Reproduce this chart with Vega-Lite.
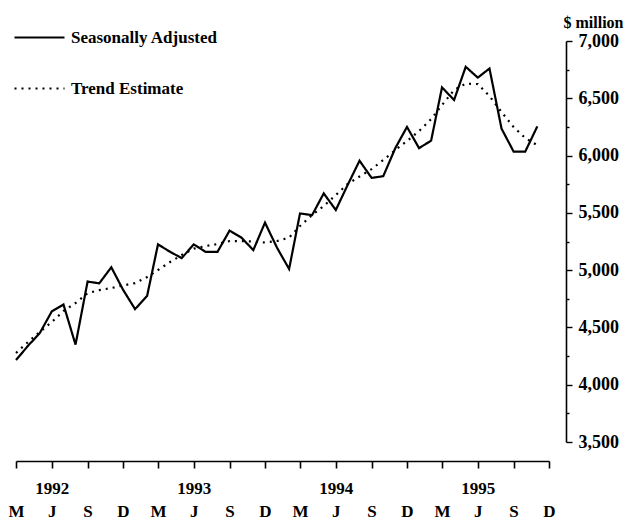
{
  "$schema": "https://vega.github.io/schema/vega-lite/v6.json",
  "width": 533,
  "height": 401,
  "autosize": {"type": "none"},
  "padding": {"left": 16, "top": 41, "right": 83, "bottom": 79},
  "background": "white",
  "config": {"view": {"stroke": null}, "font": "Liberation Serif"},
  "data": {"values": [
    {"date": "1992-03-01", "series": "Seasonally Adjusted", "value": 4215},
    {"date": "1992-04-01", "series": "Seasonally Adjusted", "value": 4340},
    {"date": "1992-05-01", "series": "Seasonally Adjusted", "value": 4450},
    {"date": "1992-06-01", "series": "Seasonally Adjusted", "value": 4640},
    {"date": "1992-07-01", "series": "Seasonally Adjusted", "value": 4700},
    {"date": "1992-08-01", "series": "Seasonally Adjusted", "value": 4350},
    {"date": "1992-09-01", "series": "Seasonally Adjusted", "value": 4900},
    {"date": "1992-10-01", "series": "Seasonally Adjusted", "value": 4885},
    {"date": "1992-11-01", "series": "Seasonally Adjusted", "value": 5025},
    {"date": "1992-12-01", "series": "Seasonally Adjusted", "value": 4830},
    {"date": "1993-01-01", "series": "Seasonally Adjusted", "value": 4660},
    {"date": "1993-02-01", "series": "Seasonally Adjusted", "value": 4775},
    {"date": "1993-03-01", "series": "Seasonally Adjusted", "value": 5225},
    {"date": "1993-04-01", "series": "Seasonally Adjusted", "value": 5160},
    {"date": "1993-05-01", "series": "Seasonally Adjusted", "value": 5105},
    {"date": "1993-06-01", "series": "Seasonally Adjusted", "value": 5225},
    {"date": "1993-07-01", "series": "Seasonally Adjusted", "value": 5160},
    {"date": "1993-08-01", "series": "Seasonally Adjusted", "value": 5160},
    {"date": "1993-09-01", "series": "Seasonally Adjusted", "value": 5345},
    {"date": "1993-10-01", "series": "Seasonally Adjusted", "value": 5285},
    {"date": "1993-11-01", "series": "Seasonally Adjusted", "value": 5175},
    {"date": "1993-12-01", "series": "Seasonally Adjusted", "value": 5415},
    {"date": "1994-01-01", "series": "Seasonally Adjusted", "value": 5195},
    {"date": "1994-02-01", "series": "Seasonally Adjusted", "value": 5010},
    {"date": "1994-03-01", "series": "Seasonally Adjusted", "value": 5495},
    {"date": "1994-04-01", "series": "Seasonally Adjusted", "value": 5480},
    {"date": "1994-05-01", "series": "Seasonally Adjusted", "value": 5670},
    {"date": "1994-06-01", "series": "Seasonally Adjusted", "value": 5525},
    {"date": "1994-07-01", "series": "Seasonally Adjusted", "value": 5740},
    {"date": "1994-08-01", "series": "Seasonally Adjusted", "value": 5955},
    {"date": "1994-09-01", "series": "Seasonally Adjusted", "value": 5805},
    {"date": "1994-10-01", "series": "Seasonally Adjusted", "value": 5820},
    {"date": "1994-11-01", "series": "Seasonally Adjusted", "value": 6065},
    {"date": "1994-12-01", "series": "Seasonally Adjusted", "value": 6250},
    {"date": "1995-01-01", "series": "Seasonally Adjusted", "value": 6065},
    {"date": "1995-02-01", "series": "Seasonally Adjusted", "value": 6130},
    {"date": "1995-03-01", "series": "Seasonally Adjusted", "value": 6595},
    {"date": "1995-04-01", "series": "Seasonally Adjusted", "value": 6485},
    {"date": "1995-05-01", "series": "Seasonally Adjusted", "value": 6775},
    {"date": "1995-06-01", "series": "Seasonally Adjusted", "value": 6680},
    {"date": "1995-07-01", "series": "Seasonally Adjusted", "value": 6760},
    {"date": "1995-08-01", "series": "Seasonally Adjusted", "value": 6235},
    {"date": "1995-09-01", "series": "Seasonally Adjusted", "value": 6035},
    {"date": "1995-10-01", "series": "Seasonally Adjusted", "value": 6035},
    {"date": "1995-11-01", "series": "Seasonally Adjusted", "value": 6255},
    {"date": "1992-03-01", "series": "Trend Estimate", "value": 4277},
    {"date": "1992-04-01", "series": "Trend Estimate", "value": 4373},
    {"date": "1992-05-01", "series": "Trend Estimate", "value": 4460},
    {"date": "1992-06-01", "series": "Trend Estimate", "value": 4547},
    {"date": "1992-07-01", "series": "Trend Estimate", "value": 4643},
    {"date": "1992-08-01", "series": "Trend Estimate", "value": 4713},
    {"date": "1992-09-01", "series": "Trend Estimate", "value": 4798},
    {"date": "1992-10-01", "series": "Trend Estimate", "value": 4826},
    {"date": "1992-11-01", "series": "Trend Estimate", "value": 4844},
    {"date": "1992-12-01", "series": "Trend Estimate", "value": 4866},
    {"date": "1993-01-01", "series": "Trend Estimate", "value": 4887},
    {"date": "1993-02-01", "series": "Trend Estimate", "value": 4940},
    {"date": "1993-03-01", "series": "Trend Estimate", "value": 5001},
    {"date": "1993-04-01", "series": "Trend Estimate", "value": 5071},
    {"date": "1993-05-01", "series": "Trend Estimate", "value": 5132},
    {"date": "1993-06-01", "series": "Trend Estimate", "value": 5188},
    {"date": "1993-07-01", "series": "Trend Estimate", "value": 5210},
    {"date": "1993-08-01", "series": "Trend Estimate", "value": 5228},
    {"date": "1993-09-01", "series": "Trend Estimate", "value": 5254},
    {"date": "1993-10-01", "series": "Trend Estimate", "value": 5254},
    {"date": "1993-11-01", "series": "Trend Estimate", "value": 5250},
    {"date": "1993-12-01", "series": "Trend Estimate", "value": 5241},
    {"date": "1994-01-01", "series": "Trend Estimate", "value": 5254},
    {"date": "1994-02-01", "series": "Trend Estimate", "value": 5284},
    {"date": "1994-03-01", "series": "Trend Estimate", "value": 5385},
    {"date": "1994-04-01", "series": "Trend Estimate", "value": 5481},
    {"date": "1994-05-01", "series": "Trend Estimate", "value": 5560},
    {"date": "1994-06-01", "series": "Trend Estimate", "value": 5655},
    {"date": "1994-07-01", "series": "Trend Estimate", "value": 5751},
    {"date": "1994-08-01", "series": "Trend Estimate", "value": 5817},
    {"date": "1994-09-01", "series": "Trend Estimate", "value": 5882},
    {"date": "1994-10-01", "series": "Trend Estimate", "value": 5961},
    {"date": "1994-11-01", "series": "Trend Estimate", "value": 6048},
    {"date": "1994-12-01", "series": "Trend Estimate", "value": 6127},
    {"date": "1995-01-01", "series": "Trend Estimate", "value": 6214},
    {"date": "1995-02-01", "series": "Trend Estimate", "value": 6318},
    {"date": "1995-03-01", "series": "Trend Estimate", "value": 6441},
    {"date": "1995-04-01", "series": "Trend Estimate", "value": 6572},
    {"date": "1995-05-01", "series": "Trend Estimate", "value": 6628},
    {"date": "1995-06-01", "series": "Trend Estimate", "value": 6624},
    {"date": "1995-07-01", "series": "Trend Estimate", "value": 6519},
    {"date": "1995-08-01", "series": "Trend Estimate", "value": 6380},
    {"date": "1995-09-01", "series": "Trend Estimate", "value": 6249},
    {"date": "1995-10-01", "series": "Trend Estimate", "value": 6153},
    {"date": "1995-11-01", "series": "Trend Estimate", "value": 6090}
  ]},
  "mark": {"type": "line", "color": "black", "strokeWidth": 2.2, "clip": false},
  "encoding": {
    "x": {
      "field": "date",
      "type": "temporal",
      "scale": {
        "type": "utc",
        "domain": [
          {"year": 1992, "month": 3, "date": 1, "utc": true},
          {"year": 1995, "month": 12, "date": 1, "utc": true}
        ]
      },
      "axis": {
        "title": null,
        "orient": "bottom",
        "offset": 19,
        "grid": false,
        "domainColor": "black",
        "domainWidth": 1.6,
        "tickColor": "black",
        "tickWidth": 1.6,
        "tickSize": 7,
        "values": [
          {"year": 1992, "month": 3, "date": 1, "utc": true},
          {"year": 1992, "month": 6, "date": 1, "utc": true},
          {"year": 1992, "month": 9, "date": 1, "utc": true},
          {"year": 1992, "month": 12, "date": 1, "utc": true},
          {"year": 1993, "month": 3, "date": 1, "utc": true},
          {"year": 1993, "month": 6, "date": 1, "utc": true},
          {"year": 1993, "month": 9, "date": 1, "utc": true},
          {"year": 1993, "month": 12, "date": 1, "utc": true},
          {"year": 1994, "month": 3, "date": 1, "utc": true},
          {"year": 1994, "month": 6, "date": 1, "utc": true},
          {"year": 1994, "month": 9, "date": 1, "utc": true},
          {"year": 1994, "month": 12, "date": 1, "utc": true},
          {"year": 1995, "month": 3, "date": 1, "utc": true},
          {"year": 1995, "month": 6, "date": 1, "utc": true},
          {"year": 1995, "month": 9, "date": 1, "utc": true},
          {"year": 1995, "month": 12, "date": 1, "utc": true}
        ],
        "labelExpr": "utcmonth(datum.value) == 5 ? [utcFormat(datum.value, '%Y'), 'J'] : ['', utcmonth(datum.value) == 2 ? 'M' : (utcmonth(datum.value) == 8 ? 'S' : 'D')]",
        "labelLineHeight": 23,
        "labelFont": "Liberation Serif",
        "labelFontSize": 17,
        "labelFontWeight": "bold",
        "labelColor": "black",
        "labelPadding": 12,
        "labelOverlap": false,
        "labelBound": false,
        "labelFlush": false
      }
    },
    "y": {
      "field": "value",
      "type": "quantitative",
      "scale": {"domain": [3500, 7000], "nice": false, "zero": false},
      "axis": {
        "orient": "right",
        "offset": 17,
        "grid": false,
        "title": "$ million",
        "titleAngle": 0,
        "titleAlign": "left",
        "titleBaseline": "middle",
        "titleX": -3,
        "titleY": -19,
        "titleFont": "Liberation Serif",
        "titleFontSize": 16,
        "titleFontWeight": "bold",
        "titleColor": "black",
        "domainColor": "black",
        "domainWidth": 1.6,
        "tickColor": "black",
        "tickWidth": 1.4,
        "tickSize": {"condition": {"test": "datum.value % 500 != 0", "value": 3}, "value": 6},
        "values": [3500, 3750, 4000, 4250, 4500, 4750, 5000, 5250, 5500, 5750, 6000, 6250, 6500, 6750, 7000],
        "labelExpr": "datum.value % 500 == 0 ? format(datum.value, ',') : ''",
        "labelFont": "Liberation Serif",
        "labelFontSize": 18,
        "labelFontWeight": "bold",
        "labelColor": "black",
        "labelPadding": 6,
        "labelOverlap": false,
        "labelBound": false,
        "labelFlush": false
      }
    },
    "strokeDash": {
      "field": "series",
      "type": "nominal",
      "scale": {
        "domain": ["Seasonally Adjusted", "Trend Estimate"],
        "range": [[1, 0], [2, 5]]
      },
      "legend": {
        "title": null,
        "orient": "none",
        "legendX": -3,
        "legendY": -30,
        "padding": 0,
        "symbolType": "stroke",
        "symbolSize": 2500,
        "symbolStrokeWidth": 2.2,
        "symbolStrokeColor": "black",
        "labelOffset": 5,
        "labelFont": "Liberation Serif",
        "labelFontSize": 17,
        "labelFontWeight": "bold",
        "labelColor": "black",
        "labelLimit": 300,
        "rowPadding": 16
      }
    }
  }
}
